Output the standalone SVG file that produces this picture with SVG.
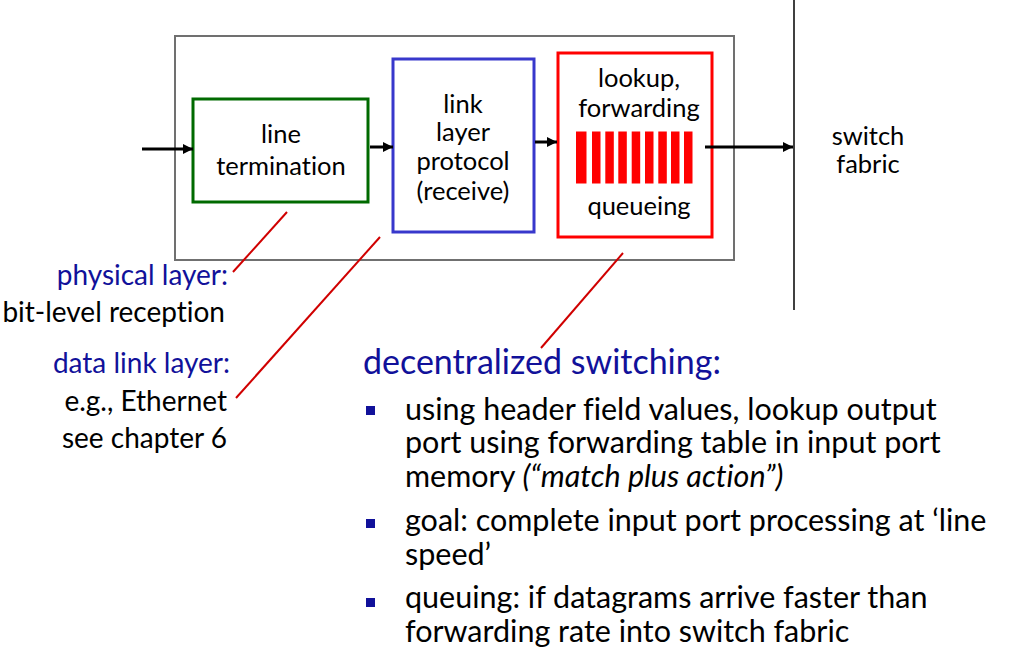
<svg xmlns="http://www.w3.org/2000/svg" width="1027" height="662" viewBox="0 0 1027 662">
  <style>
    text { font-family: Lato, "Liberation Sans", sans-serif; fill: #000; font-variant-ligatures: none; }
    .box { fill: none; stroke-width: 3; }
    .lbl { font-size: 25.5px; text-anchor: middle; }
    .side { font-size: 28px; text-anchor: end; }
    .navy { fill: #11119a; }
    .body { font-size: 30.5px; }
    .flow { stroke: #000; stroke-width: 3; fill: none; marker-end: url(#head); }
    .callout { stroke: #d00000; stroke-width: 2; fill: none; }
    .bullet { fill: #11119a; }
    .slot { fill: #ff0000; }
  </style>
  <defs>
    <marker id="head" viewBox="0 0 10 10" refX="10" refY="5" markerWidth="10" markerHeight="10" markerUnits="userSpaceOnUse" orient="auto">
      <path d="M0,0 L10,5 L0,10 z" fill="#000"/>
    </marker>
  </defs>

  <rect width="1027" height="662" fill="#fff"/>

  <!-- input port enclosure -->
  <g id="input-port">
    <rect x="175" y="36" width="559" height="224" fill="none" stroke="#707070" stroke-width="2"/>
  </g>

  <!-- switch fabric boundary -->
  <g id="switch-fabric">
    <line x1="794" y1="0" x2="794" y2="310" stroke="#000" stroke-width="1.5"/>
    <text class="lbl" x="868" y="145">switch</text>
    <text class="lbl" x="868" y="173">fabric</text>
  </g>

  <g id="line-termination">
    <rect class="box" x="193" y="99" width="175" height="103" stroke="#006a00"/>
    <text class="lbl" x="281" y="143">line</text>
    <text class="lbl" x="281" y="175">termination</text>
  </g>

  <g id="link-layer">
    <rect class="box" x="393" y="59" width="141" height="173" stroke="#3838cc"/>
    <text class="lbl" x="463" y="113">link</text>
    <text class="lbl" x="463" y="141">layer</text>
    <text class="lbl" x="463" y="170">protocol</text>
    <text class="lbl" x="463" y="200">(receive)</text>
  </g>

  <g id="lookup-queue">
    <rect class="box" x="558" y="53" width="154" height="184" stroke="#ff0000"/>
    <text class="lbl" x="639" y="87">lookup,</text>
    <text class="lbl" x="639" y="117">forwarding</text>
    <rect class="slot" x="576" y="131.5" width="10.5" height="52"/>
    <rect class="slot" x="592" y="131.5" width="8.5" height="52"/>
    <rect class="slot" x="605.3" y="131.5" width="8.5" height="52"/>
    <rect class="slot" x="618.3" y="131.5" width="8.5" height="52"/>
    <rect class="slot" x="631.7" y="131.5" width="8.5" height="52"/>
    <rect class="slot" x="645" y="131.5" width="8.5" height="52"/>
    <rect class="slot" x="658.3" y="131.5" width="8.5" height="52"/>
    <rect class="slot" x="671" y="131.5" width="8.5" height="52"/>
    <rect class="slot" x="684" y="131.5" width="8.5" height="52"/>
    <text class="lbl" x="639" y="215">queueing</text>
  </g>

  <g id="connectors">
    <line class="flow" x1="142" y1="149" x2="193" y2="149"/>
    <line class="flow" x1="370" y1="147" x2="393" y2="147"/>
    <line class="flow" x1="535" y1="142" x2="557" y2="142"/>
    <line class="flow" x1="705" y1="147" x2="793" y2="147"/>
    <line class="callout" x1="287" y1="212" x2="233" y2="272"/>
    <line class="callout" x1="380" y1="237" x2="236" y2="398"/>
    <line class="callout" x1="623" y1="253" x2="541" y2="348"/>
  </g>

  <g id="physical-note">
    <text class="side navy" x="228" y="285">physical layer:</text>
    <text class="side" x="225" y="322">bit-level reception</text>
  </g>

  <g id="data-link-note">
    <text class="side navy" x="230" y="373">data link layer:</text>
    <text class="side" x="227" y="411">e.g., Ethernet</text>
    <text class="side" x="227" y="448">see chapter 6</text>
  </g>

  <g id="switching-notes">
    <text class="navy" x="363" y="374" font-size="34">decentralized switching:</text>
    <rect class="bullet" x="366" y="406" width="9" height="9"/>
    <text class="body" x="405" y="420">using header field values, lookup output</text>
    <text class="body" x="405" y="453">port using forwarding table in input port</text>
    <text class="body" x="405" y="487">memory <tspan font-style="italic">(“match plus action”)</tspan></text>
    <rect class="bullet" x="366" y="519" width="9" height="9"/>
    <text class="body" x="405" y="531">goal: complete input port processing at ‘line</text>
    <text class="body" x="405" y="565">speed’</text>
    <rect class="bullet" x="366" y="598" width="9" height="9"/>
    <text class="body" x="405" y="608">queuing: if datagrams arrive faster than</text>
    <text class="body" x="405" y="642">forwarding rate into switch fabric</text>
  </g>
</svg>
